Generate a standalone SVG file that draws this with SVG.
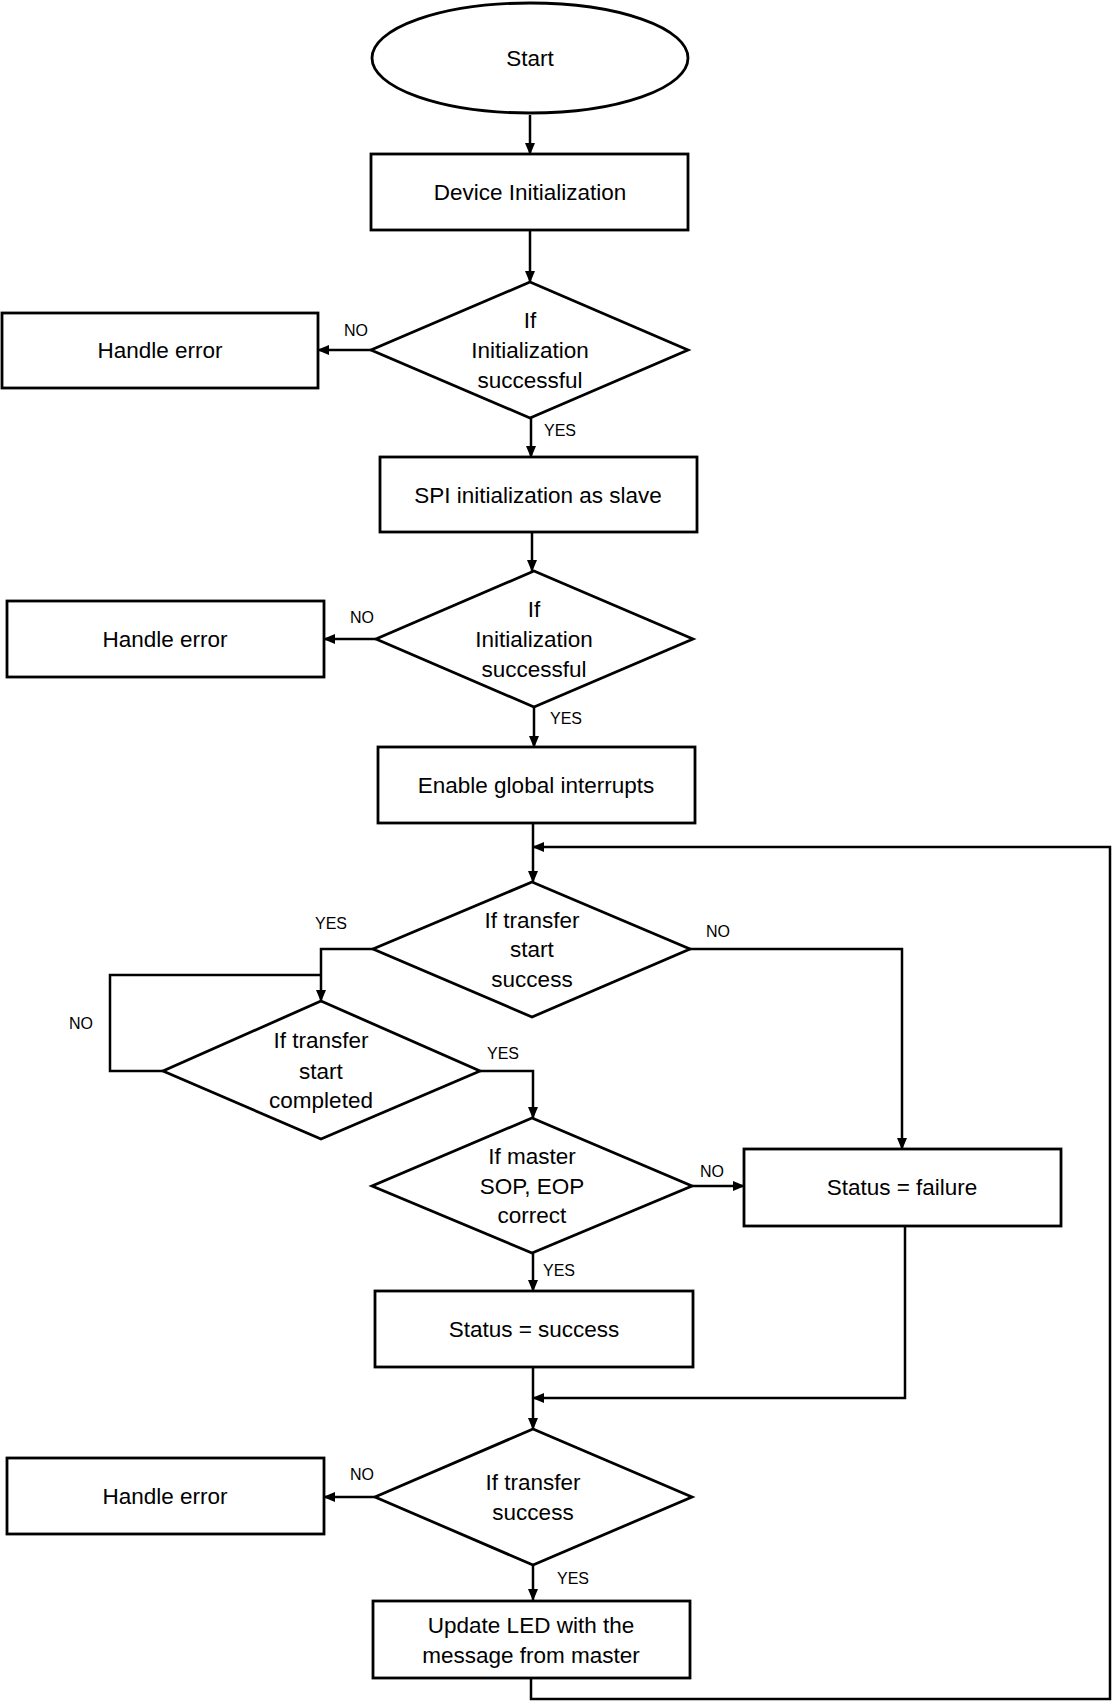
<svg xmlns="http://www.w3.org/2000/svg" width="1112" height="1702" viewBox="0 0 1112 1702">
<defs>
<marker id="ah" markerWidth="12" markerHeight="10" refX="11" refY="5" orient="auto" markerUnits="userSpaceOnUse">
<path d="M0,0 L12,5 L0,10 Z" fill="#000"/>
</marker>
<style>
.n{fill:#fff;stroke:#000;stroke-width:2.8}
.t{font-family:"Liberation Sans",Arial,sans-serif;font-size:22.5px;text-anchor:middle;dominant-baseline:central;fill:#000}
.l{font-family:"Liberation Sans",Arial,sans-serif;font-size:16px;text-anchor:middle;dominant-baseline:central;fill:#000}
.c{fill:none;stroke:#000;stroke-width:2.5}
</style>
</defs>
<rect width="1112" height="1702" fill="#fff"/>
<g id="connectors">
<path class="c" d="M530,115 V154" marker-end="url(#ah)"/>
<path class="c" d="M530,230 V282" marker-end="url(#ah)"/>
<path class="c" d="M371,350 H318" marker-end="url(#ah)"/>
<path class="c" d="M531,418 V457" marker-end="url(#ah)"/>
<path class="c" d="M532,532 V571" marker-end="url(#ah)"/>
<path class="c" d="M376,639 H324" marker-end="url(#ah)"/>
<path class="c" d="M534,707 V747" marker-end="url(#ah)"/>
<path class="c" d="M533,823 V882" marker-end="url(#ah)"/>
<path class="c" d="M373,949 H321 V1001" marker-end="url(#ah)"/>
<path class="c" d="M689,949 H902 V1149" marker-end="url(#ah)"/>
<path class="c" d="M163,1071 H110 V975 H321"/>
<path class="c" d="M480,1071 H533 V1118" marker-end="url(#ah)"/>
<path class="c" d="M692,1186 H744" marker-end="url(#ah)"/>
<path class="c" d="M533,1253 V1291" marker-end="url(#ah)"/>
<path class="c" d="M905,1224 V1398 H533" marker-end="url(#ah)"/>
<path class="c" d="M533,1367 V1429" marker-end="url(#ah)"/>
<path class="c" d="M375,1497 H324" marker-end="url(#ah)"/>
<path class="c" d="M533,1565 V1600" marker-end="url(#ah)"/>
<path class="c" d="M531,1678 V1699 H1110 V847 H533" marker-end="url(#ah)"/>
<text class="l" x="356" y="330">NO</text>
<text class="l" x="560" y="430">YES</text>
<text class="l" x="362" y="617">NO</text>
<text class="l" x="566" y="718">YES</text>
<text class="l" x="331" y="923">YES</text>
<text class="l" x="718" y="931">NO</text>
<text class="l" x="81" y="1023">NO</text>
<text class="l" x="503" y="1053">YES</text>
<text class="l" x="712" y="1171">NO</text>
<text class="l" x="559" y="1270">YES</text>
<text class="l" x="362" y="1474">NO</text>
<text class="l" x="573" y="1578">YES</text>
</g>
<g id="start">
<ellipse class="n" cx="530" cy="58" rx="158" ry="55"/>
<text class="t" x="530" y="58">Start</text>
</g>
<g id="device-init">
<rect class="n" x="371" y="154" width="317" height="76"/>
<text class="t" x="530" y="192">Device Initialization</text>
</g>
<g id="dec-init1">
<polygon class="n" points="530,282 688,350 530,418 371,350"/>
<text class="t" x="530" y="320">If</text>
<text class="t" x="530" y="350">Initialization</text>
<text class="t" x="530" y="380">successful</text>
</g>
<g id="handle-error1">
<rect class="n" x="2" y="313" width="316" height="75"/>
<text class="t" x="160" y="350">Handle error</text>
</g>
<g id="spi-init">
<rect class="n" x="380" y="457" width="317" height="75"/>
<text class="t" x="538" y="495">SPI initialization as slave</text>
</g>
<g id="dec-init2">
<polygon class="n" points="534,571 693,639 534,707 376,639"/>
<text class="t" x="534" y="609">If</text>
<text class="t" x="534" y="639">Initialization</text>
<text class="t" x="534" y="669">successful</text>
</g>
<g id="handle-error2">
<rect class="n" x="7" y="601" width="317" height="76"/>
<text class="t" x="165" y="639">Handle error</text>
</g>
<g id="enable-int">
<rect class="n" x="378" y="747" width="317" height="76"/>
<text class="t" x="536" y="785">Enable global interrupts</text>
</g>
<g id="dec-start-success">
<polygon class="n" points="532,882 690,949 532,1017 373,949"/>
<text class="t" x="532" y="920">If transfer</text>
<text class="t" x="532" y="949">start</text>
<text class="t" x="532" y="979">success</text>
</g>
<g id="dec-start-completed">
<polygon class="n" points="321,1001 480,1071 321,1139 163,1071"/>
<text class="t" x="321" y="1040">If transfer</text>
<text class="t" x="321" y="1071">start</text>
<text class="t" x="321" y="1100">completed</text>
</g>
<g id="dec-sop-eop">
<polygon class="n" points="532,1118 692,1186 532,1253 372,1186"/>
<text class="t" x="532" y="1156">If master</text>
<text class="t" x="532" y="1186">SOP, EOP</text>
<text class="t" x="532" y="1215">correct</text>
</g>
<g id="status-failure">
<rect class="n" x="744" y="1149" width="317" height="77"/>
<text class="t" x="902" y="1187">Status = failure</text>
</g>
<g id="status-success">
<rect class="n" x="375" y="1291" width="318" height="76"/>
<text class="t" x="534" y="1329">Status = success</text>
</g>
<g id="dec-transfer-success">
<polygon class="n" points="533,1429 692,1497 533,1565 375,1497"/>
<text class="t" x="533" y="1482">If transfer</text>
<text class="t" x="533" y="1512">success</text>
</g>
<g id="handle-error3">
<rect class="n" x="7" y="1458" width="317" height="76"/>
<text class="t" x="165" y="1496">Handle error</text>
</g>
<g id="update-led">
<rect class="n" x="373" y="1601" width="317" height="77"/>
<text class="t" x="531" y="1625">Update LED with the</text>
<text class="t" x="531" y="1655">message from master</text>
</g>
</svg>
